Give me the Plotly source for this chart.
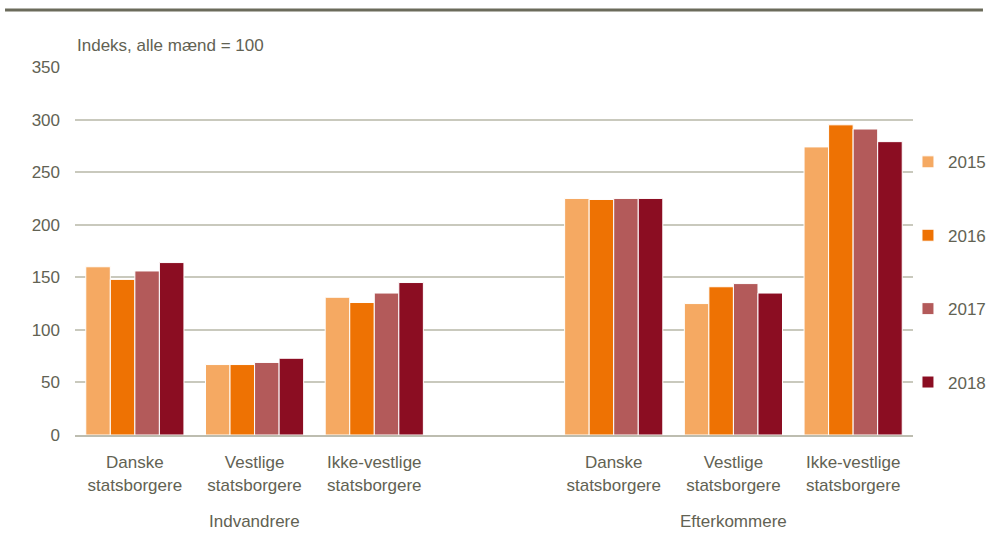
import plotly.graph_objects as go

categories = ["Danske<br>statsborgere", "Vestlige<br>statsborgere", "Ikke-vestlige<br>statsborgere", "",
              "Danske<br>statsborgere", "Vestlige<br>statsborgere", "Ikke-vestlige<br>statsborgere"]
groups = ["Indvandrere", "Efterkommere"]
years = ["2015", "2016", "2017", "2018"]
v2015 = [160, 67, 131, None, 225, 125, 274]
v2016 = [148, 67, 126, None, 224, 141, 295]
v2017 = [156, 69, 135, None, 225, 144, 291]
v2018 = [164, 73, 145, None, 225, 135, 279]
series = [v2015, v2016, v2017, v2018]
colors = ["#F5A962", "#EE7203", "#B35A5A", "#8B0D22"]
yticks = [0, 50, 100, 150, 200, 250, 300, 350]

FONT = "Liberation Sans Narrow, Arial Narrow, Liberation Sans, Arial, sans-serif"
TXT = "#626253"

xpos = list(range(len(categories)))
fig = go.Figure()
for name, vals, col in zip(years, series, colors):
    fig.add_trace(go.Bar(x=xpos, y=vals, name=name, marker=dict(color=col, line=dict(color="white", width=1)),
                         legendgroup=name))

fig.update_layout(
    width=988, height=539,
    paper_bgcolor="white", plot_bgcolor="white",
    margin=dict(l=75, r=75, t=67, b=104, autoexpand=False),
    barmode="group", bargap=0.18, bargroupgap=0,
    font=dict(family=FONT, size=17, color=TXT),
    showlegend=True,
    legend=dict(x=0.994, y=0.79, xanchor="left", yanchor="top", font=dict(size=17, color=TXT),
                tracegroupgap=48.3, itemwidth=30, bgcolor="rgba(0,0,0,0)"),
    xaxis=dict(tickmode="array", tickvals=xpos, ticktext=categories, range=[-0.5, len(categories) - 0.5],
               showgrid=False, zeroline=False, showline=True, linecolor="#bdbdb0", linewidth=2,
               ticks="", tickfont=dict(size=17, color=TXT), ticklabelstandoff=11, automargin=False),
    yaxis=dict(range=[0, 350], tickvals=yticks, showgrid=True, gridcolor="#c9c9bd", gridwidth=2,
               zeroline=False, showline=False, ticks="", tickfont=dict(size=17, color=TXT),
               ticklabelstandoff=14, automargin=False),
)

fig.add_annotation(text="Indeks, alle mænd = 100", xref="paper", yref="paper", x=0, y=1.0, yshift=10,
                   xanchor="left", yanchor="bottom", showarrow=False, font=dict(size=17, color=TXT))
group_centers = [1, 5]
for g, c in zip(groups, group_centers):
    fig.add_annotation(text=g, x=c, xref="x", yref="paper", y=0, yshift=-75, yanchor="top",
                       showarrow=False, font=dict(size=17, color=TXT))
fig.add_shape(type="line", xref="paper", yref="paper", x0=-0.0835, x1=1.0835, y0=1.155, y1=1.155,
              line=dict(color="#6b6b5b", width=3))

fig.write_html("out.html", config={"displayModeBar": False},
               post_script="document.body.style.margin='0';document.body.style.overflow='hidden';")
